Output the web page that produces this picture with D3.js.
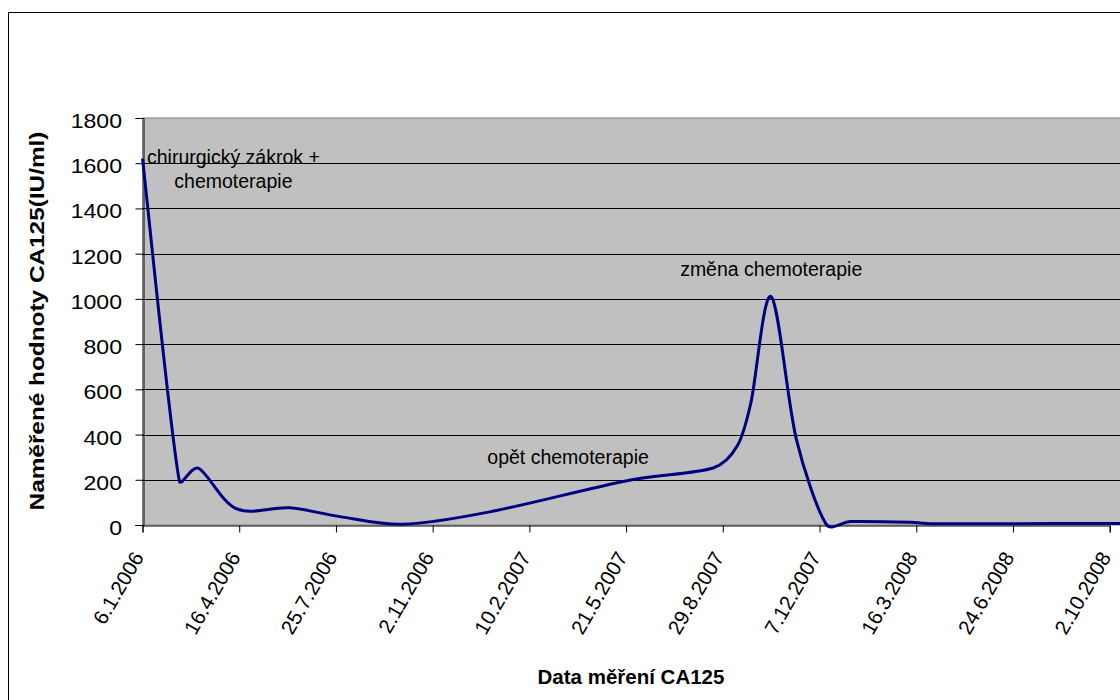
<!DOCTYPE html>
<html><head><meta charset="utf-8">
<script src="https://cdn.jsdelivr.net/npm/d3@7"></script>
<style>
body{margin:0;background:#fff}
svg{display:block}
text{font-family:"Liberation Sans",Arial,sans-serif;fill:#000}
</style>
</head><body>
<svg id="c" width="1120" height="700"></svg>
<script>
// ---- data ----
const dates = ["2006-01-06","2006-02-13","2006-03-05","2006-04-13","2006-06-07","2006-07-29","2006-10-02","2006-12-31","2007-05-22","2007-08-19","2007-09-13","2007-09-27","2007-10-18","2007-11-13","2007-12-14","2008-01-08","2008-03-10","2008-03-31","2008-06-24","2008-10-02","2008-10-17"];
const values = [1620,196,251,72,76,37,3,58,196,252,350,540,1010,380,3,15,12,6,6,7,7];
const xTickDates = ["2006-01-06","2006-04-16","2006-07-25","2006-11-02","2007-02-10","2007-05-21","2007-08-29","2007-12-07","2008-03-16","2008-06-24","2008-10-02"];
const yTicks = [0,200,400,600,800,1000,1200,1400,1600,1800];
const annotationTexts = [["chirurgický zákrok +","chemoterapie"],["změna chemoterapie"],["opět chemoterapie"]];
const annotationDates = ["2006-04-10","2007-10-18","2007-03-22"];
const annotationValues = [1597,1100,268];
const yTitle = "Naměřené hodnoty CA125(IU/ml)";
const xTitle = "Data měření CA125";

// ---- chart ----
const parse = d3.utcParse("%Y-%m-%d");
const fmt = d => `${d.getUTCDate()}.${d.getUTCMonth()+1}.${d.getUTCFullYear()}`;
const svg = d3.select("#c");

const x = d3.scaleUtc().domain([parse("2006-01-06"), parse("2008-10-02")]).range([142.5, 1109.7]);
const y = d3.scaleLinear().domain([0,1800]).range([525,118]);

// outer border
svg.append("rect").attr("x",8.5).attr("y",12.5).attr("width",1300).attr("height",900)
  .attr("fill","#fff").attr("stroke","#000").attr("stroke-width",1);

// plot area
svg.append("rect").attr("x",x.range()[0]).attr("y",y(1800)).attr("width",1200).attr("height",y(0)-y(1800))
  .attr("fill","#C0C0C0").attr("stroke","#808080").attr("stroke-width",1);

// gridlines
svg.append("g").selectAll("line").data(yTicks.filter(v=>v>0 && v<1800)).join("line")
  .attr("x1",x.range()[0]).attr("x2",1300)
  .attr("y1",d=>Math.round(y(d))+0.5).attr("y2",d=>Math.round(y(d))+0.5)
  .attr("stroke","#000").attr("stroke-width",1);

// y axis
const yAxis = svg.append("g").attr("transform",`translate(${Math.round(x.range()[0])+0.5},0)`)
  .call(d3.axisLeft(y).tickValues(yTicks).tickSize(8).tickFormat(""));
yAxis.select(".domain").attr("stroke","#000");
yAxis.selectAll(".tick line").attr("stroke","#000");
svg.append("g").selectAll("text").data(yTicks).join("text")
  .attr("text-anchor","end").attr("font-size",21)
  .attr("transform",d=>`translate(122,${y(d)+10}) scale(1.1,1)`)
  .text(d=>d);

// x axis
const xAxis = svg.append("g").attr("transform",`translate(0,${Math.round(y(0))+0.5})`)
  .call(d3.axisBottom(x).tickValues(xTickDates.map(parse)).tickSize(7).tickFormat(""));
xAxis.select(".domain").attr("stroke","#000");
xAxis.selectAll(".tick line").attr("stroke","#000");
svg.append("g").selectAll("text").data(xTickDates).join("text")
  .attr("text-anchor","end").attr("font-size",20.5)
  .attr("transform",d=>`translate(${x(parse(d))+2},557) rotate(-60)`)
  .text(d=>fmt(parse(d)));

// smoothed line (Excel-like Bezier smoothing with clamped tangents)
const pts = dates.map((d,i)=>[x(parse(d)), y(values[i])]);
function smoothPath(p){
  const path = d3.path();
  path.moveTo(p[0][0], p[0][1]);
  const clamp = (t, len) => { const l = Math.hypot(t[0],t[1]); const m = 0.35*len; return l>m ? [t[0]*m/l, t[1]*m/l] : t; };
  for (let i=0;i<p.length-1;i++){
    const p0 = p[Math.max(0,i-1)], p1 = p[i], p2 = p[i+1], p3 = p[Math.min(p.length-1,i+2)];
    const len = Math.hypot(p2[0]-p1[0], p2[1]-p1[1]);
    const t1 = clamp([(p2[0]-p0[0])/6,(p2[1]-p0[1])/6], len);
    const t2 = clamp([(p3[0]-p1[0])/6,(p3[1]-p1[1])/6], len);
    path.bezierCurveTo(p1[0]+t1[0], p1[1]+t1[1], p2[0]-t2[0], p2[1]-t2[1], p2[0], p2[1]);
  }
  return path.toString();
}
svg.append("path").attr("d", smoothPath(pts))
  .attr("fill","none").attr("stroke","#000080").attr("stroke-width",3).attr("stroke-linejoin","round");

// annotations
annotationTexts.forEach((lines,i)=>{
  const t = svg.append("text").attr("text-anchor","middle").attr("font-size",19.5)
    .attr("x",x(parse(annotationDates[i]))).attr("y",y(annotationValues[i]));
  lines.forEach((l,j)=>t.append("tspan").attr("x",x(parse(annotationDates[i]))).attr("dy",j?24:0).text(l));
});

// titles
svg.append("text").attr("text-anchor","middle").attr("font-size",21).attr("font-weight","bold")
  .attr("transform","translate(43.5,321) rotate(-90) scale(1.16,1)").text(yTitle);
svg.append("text").attr("text-anchor","middle").attr("font-size",20.5).attr("font-weight","bold")
  .attr("x",631).attr("y",684).text(xTitle);
</script>
</body></html>
